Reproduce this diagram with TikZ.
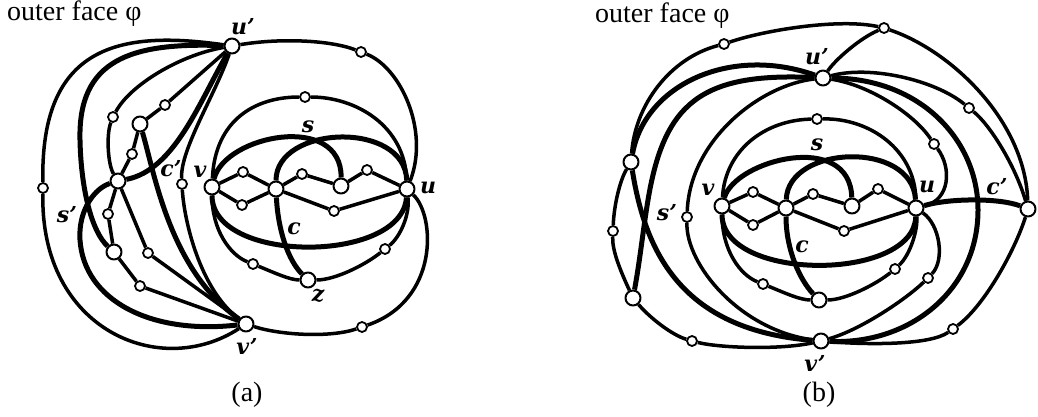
\documentclass[tikz,border=0pt]{standalone}
\usepackage{fontspec}
\newfontfamily\tnr{Liberation Serif}
\newfontfamily\lbl{DejaVu Serif}
\usetikzlibrary{backgrounds}
\begin{document}
\begin{tikzpicture}[x=1pt,y=-1pt,line cap=round,line join=round,
  bignode/.style={circle,draw,fill=white,line width=2pt,minimum size=15pt,inner sep=0pt},
  smnode/.style={circle,draw,fill=white,line width=1.8pt,minimum size=10pt,inner sep=0pt},
  ed/.style={line width=3.5pt},
  tk/.style={line width=5pt},
  lab/.style={font=\lbl\fontsize{22}{22}\selectfont\bfseries\itshape,inner sep=0pt},
  captxt/.style={font=\tnr\fontsize{28}{28}\selectfont,inner sep=0pt}
]
\useasboundingbox (0,0) rectangle (1038,417);
% ---------------- panel (a) nodes
\node[bignode] (up) at (232,46) {};
\node[bignode] (vp) at (246,324) {};
\node[bignode] (Av) at (212,187) {};
\node[bignode] (Au) at (407,189) {};
\node[bignode] (AC) at (276,189) {};
\node[bignode] (AN) at (341,186) {};
\node[bignode] (Az) at (308,280) {};
\node[bignode] (B1) at (140,124) {};
\node[bignode] (B2) at (114,252) {};
\node[bignode] (B3) at (118,181) {};
\node[smnode] (a1) at (243,172) {};
\node[smnode] (a2) at (242,205) {};
\node[smnode] (a3) at (302,174) {};
\node[smnode] (a4) at (367,170) {};
\node[smnode] (a5) at (334,211) {};
\node[smnode] (a6) at (305,97) {};
\node[smnode] (a7) at (253,264) {};
\node[smnode] (a8) at (385,249) {};
\node[smnode] (a9) at (361,52) {};
\node[smnode] (a10) at (362,327) {};
\node[smnode] (a11) at (43,188) {};
\node[smnode] (a12) at (113,117) {};
\node[smnode] (a13) at (165,105) {};
\node[smnode] (a14) at (132,154) {};
\node[smnode] (a15) at (108,214) {};
\node[smnode] (a16) at (148,253) {};
\node[smnode] (a17) at (140,286) {};
\node[smnode] (a18) at (182,184) {};
\coordinate (sA) at (80,140);
\coordinate (sB) at (80,240);
% ---------------- panel (b) nodes
\node[bignode] (bup) at (823,78) {};
\node[bignode] (bvp) at (821,341) {};
\node[bignode] (bv) at (722,206) {};
\node[bignode] (bu) at (916,208) {};
\node[bignode] (bC) at (786,208) {};
\node[bignode] (bN) at (852,206) {};
\node[bignode] (bz) at (819,300) {};
\node[bignode] (L1) at (631,162) {};
\node[bignode] (L2) at (633,298) {};
\node[bignode] (R) at (1028,209) {};
\node[smnode] (b1) at (753,192) {};
\node[smnode] (b2) at (753,225) {};
\node[smnode] (b3) at (813,194) {};
\node[smnode] (b4) at (878,189) {};
\node[smnode] (b5) at (844,231) {};
\node[smnode] (b6) at (817,119) {};
\node[smnode] (b7) at (763,284) {};
\node[smnode] (b8) at (895,269) {};
\node[smnode] (b9) at (928,278) {};
\node[smnode] (b10) at (934,144) {};
\node[smnode] (b11) at (969,108) {};
\node[smnode] (b12) at (884,28) {};
\node[smnode] (b13) at (724,44) {};
\node[smnode] (b14) at (613,231) {};
\node[smnode] (b15) at (692,341) {};
\node[smnode] (b16) at (687,217) {};
\node[smnode] (b17) at (953,329) {};
\coordinate (bcc) at (978,210);
\coordinate (bs) at (648,200);

\begin{scope}[on background layer]
% ---------------- panel (a) edges
\draw[ed] (up) .. controls (120,30) and (40,45) .. (a11) .. controls (40,330) and (160,380) .. (vp);
\draw[tk] (up) .. controls (130,42) and (78,60) .. (sA) .. controls (81,190) and (92,232) .. (B2);
\draw[ed] (up) .. controls (180,55) and (130,85) .. (a12) .. controls (106,135) and (108,165) .. (B3);
\draw[ed] (up) -- (a13) -- (B1);
\draw[tk] (up) .. controls (200,100) and (175,170) .. (B3);
\draw[ed] (B1) -- (a14) -- (B3) -- (a15) -- (B2) -- (a17) -- (vp);
\draw[ed] (B3) -- (a16) -- (vp);
\draw[tk] (B3) .. controls (95,188) and (78,210) .. (sB) .. controls (84,300) and (150,335) .. (vp);
\draw[tk] (B1) .. controls (155,175) and (170,270) .. (vp);
\draw[ed] (up) .. controls (215,95) and (180,150) .. (a18) .. controls (184,220) and (200,290) .. (vp);
\draw[ed] (up) .. controls (280,38) and (330,40) .. (a9) .. controls (400,67) and (430,130) .. (Au);
\draw[ed] (Au) .. controls (435,215) and (440,300) .. (a10) .. controls (330,338) and (280,335) .. (vp);
\draw[ed] (Av) .. controls (215,120) and (255,97) .. (a6) .. controls (355,97) and (405,125) .. (Au);
\draw[tk] (Av) .. controls (225,135) and (342,112) .. (AN);
\draw[tk] (AC) .. controls (276,125) and (405,120) .. (Au);
\draw[tk] (Av) .. controls (212,264) and (402,264) .. (Au);
\draw[ed] (Av) .. controls (212,230) and (230,255) .. (a7) .. controls (275,273) and (290,280) .. (Az)
   .. controls (335,280) and (365,265) .. (a8) .. controls (400,237) and (410,215) .. (Au);
\draw[tk] (AC) .. controls (278,230) and (288,260) .. (Az);
\draw[ed] (Av) -- (a1) -- (AC) -- (a3) -- (AN) -- (a4) -- (Au);
\draw[ed] (Av) -- (a2) -- (AC) -- (a5) -- (Au);
% ---------------- panel (b) edges
\draw[ed] (L1) .. controls (635,105) and (670,58) .. (b13) .. controls (765,30) and (840,18) .. (b12);
\draw[ed] (b12) .. controls (860,38) and (835,60) .. (bup);
\draw[ed] (b12) .. controls (950,50) and (1025,120) .. (R);
\draw[ed] (R) .. controls (1015,250) and (985,305) .. (b17) .. controls (930,345) and (870,345) .. (bvp);
\draw[ed] (bvp) .. controls (780,350) and (720,348) .. (b15) .. controls (672,335) and (650,318) .. (L2);
\draw[ed] (L2) .. controls (620,270) and (612,250) .. (b14) .. controls (614,205) and (620,180) .. (L1);
\draw[ed] (bup) .. controls (870,65) and (935,80) .. (b11) .. controls (990,125) and (1015,165) .. (R);
\draw[ed] (bup) .. controls (870,85) and (915,115) .. (b10) .. controls (952,168) and (950,200) .. (bu);
\draw[tk] (bup) .. controls (920,78) and (978,140) .. (bcc) .. controls (978,290) and (910,345) .. (bvp);
\draw[tk] (L1) .. controls (645,85) and (730,45) .. (bup);
\draw[tk] (L2) .. controls (640,260) and (643,230) .. (bs) .. controls (664,104) and (700,72) .. (bup);
\draw[ed] (bup) .. controls (760,85) and (690,140) .. (b16) .. controls (686,265) and (740,330) .. (bvp);
\draw[tk] (L1) .. controls (645,250) and (680,330) .. (bvp);
\draw[tk] (bu) .. controls (950,198) and (1000,198) .. (R);
\draw[ed] (bu) .. controls (940,225) and (945,260) .. (b9) .. controls (905,300) and (860,330) .. (bvp);
\draw[ed] (bv) .. controls (725,150) and (765,120) .. (b6) .. controls (870,118) and (915,150) .. (bu);
\draw[tk] (bv) .. controls (735,160) and (850,130) .. (bN);
\draw[tk] (bC) .. controls (788,145) and (912,140) .. (bu);
\draw[tk] (bv) .. controls (722,282) and (914,282) .. (bu);
\draw[ed] (bv) .. controls (722,250) and (740,275) .. (b7) .. controls (785,293) and (800,300) .. (bz)
   .. controls (845,300) and (875,285) .. (b8) .. controls (910,255) and (918,230) .. (bu);
\draw[tk] (bC) .. controls (786,250) and (800,280) .. (bz);
\draw[ed] (bv) -- (b1) -- (bC) -- (b3) -- (bN) -- (b4) -- (bu);
\draw[ed] (bv) -- (b2) -- (bC) -- (b5) -- (bu);
\end{scope}
% ---------------- labels
\node[lab] (lup) at (243,27) {u’};
\node[lab] (lvp) at (247,346) {v’};
\node[lab] (lv) at (200,172) {v};
\node[lab] (lu) at (428,188) {u};
\node[lab] (ls) at (308,127) {s};
\node[lab] (lc) at (294,229) {c};
\node[lab] (lz) at (318,296) {z};
\node[lab] (lcp) at (171,169) {c’};
\node[lab] (lsp) at (67,215) {s’};
\node[lab] (blup) at (817,57) {u’};
\node[lab] (blvp) at (815,363) {v’};
\node[lab] (blv) at (708,190) {v};
\node[lab] (blu) at (927,187) {u};
\node[lab] (bls) at (817,145) {s};
\node[lab] (blc) at (802,247) {c};
\node[lab] (blcp) at (997,187) {c’};
\node[lab] (blsp) at (667,213) {s’};
\node[captxt,anchor=base west] (ofa) at (7,21) {outer face φ};
\node[captxt,anchor=base west] (ofb) at (595,23) {outer face φ};
\node[captxt,anchor=base] (capa) at (247,401) {(a)};
\node[captxt,anchor=base] (capb) at (819,401) {(b)};
\end{tikzpicture}
\end{document}
